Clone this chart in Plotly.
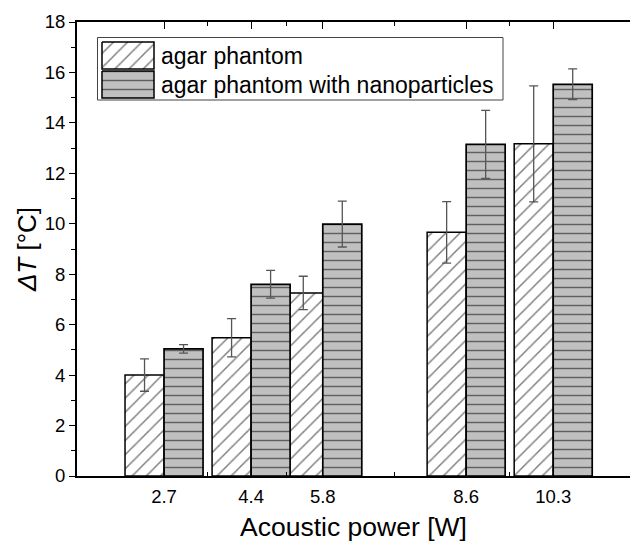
import plotly.graph_objects as go

# ---- data ----
power = [2.7, 4.4, 5.8, 8.6, 10.3]
tick_labels = ["2.7", "4.4", "5.8", "8.6", "10.3"]
dT_agar = [4.00, 5.48, 7.26, 9.66, 13.17]
err_agar = [0.64, 0.76, 0.66, 1.22, 2.30]
dT_nano = [5.04, 7.60, 9.99, 13.15, 15.53]
err_nano = [0.17, 0.55, 0.91, 1.35, 0.61]
series_names = ["agar phantom", "agar phantom with nanoparticles"]

BAR_W = 0.762
FONT = "Liberation Sans, Arial, sans-serif"
GRAY = "#c0c0c0"
ERRC = "#555555"
HATCH = dict(shape="/", size=10, solidity=0.15, fgcolor="black", bgcolor="white", fillmode="overlay")
HLINE = dict(shape="-", size=9, solidity=0.16, fgcolor="black", bgcolor=GRAY, fillmode="overlay")

minor_vals = [(a + b) / 2 for a, b in zip(power[:-1], power[1:])]

fig = go.Figure()

fig.add_trace(go.Bar(
    x=power, y=dT_agar, width=BAR_W, offset=-BAR_W, name=series_names[0],
    marker=dict(color="white", line=dict(color="black", width=1.5), pattern=HATCH),
    error_y=dict(type="data", array=err_agar, color=ERRC, thickness=1.3, width=4.5),
    showlegend=False,
))
fig.add_trace(go.Bar(
    x=power, y=dT_nano, width=BAR_W, offset=0, name=series_names[1],
    marker=dict(color=GRAY, line=dict(color="black", width=1.7), pattern=HLINE),
    error_y=dict(type="data", array=err_nano, color=ERRC, thickness=1.3, width=4.5),
    showlegend=False,
))

# ---- custom legend drawn on a pixel-space overlay axis ----
def rect(x0, y0, x1, y1):
    return [x0, x1, x1, x0, x0], [y0, y0, y1, y1, y0]

sx, sy = rect(102, 42, 154, 69)
fig.add_trace(go.Scatter(
    x=sx, y=sy, xaxis="x2", yaxis="y2", mode="lines", fill="toself",
    fillcolor="white", line=dict(color="black", width=1.5),
    fillpattern=HATCH, showlegend=False, hoverinfo="skip"))
sx, sy = rect(102, 71, 154, 98)
fig.add_trace(go.Scatter(
    x=sx, y=sy, xaxis="x2", yaxis="y2", mode="lines", fill="toself",
    fillcolor=GRAY, line=dict(color="black", width=1.5),
    fillpattern=HLINE, showlegend=False, hoverinfo="skip"))

fig.add_shape(type="rect", xref="x2", yref="y2", x0=97.5, x1=503, y0=37.5, y1=100,
              line=dict(color="#444444", width=1), fillcolor="white", layer="below")
for name, yc in zip(series_names, [55.5, 84.5]):
    fig.add_annotation(xref="x2", yref="y2", x=159, y=yc, text=name, showarrow=False,
                       xanchor="left", yanchor="middle",
                       font=dict(family=FONT, size=23, color="black"))

fig.update_layout(
    width=630, height=547,
    margin=dict(l=77, r=0, t=22, b=71),
    paper_bgcolor="white", plot_bgcolor="white",
    barmode="overlay",
    font=dict(family=FONT, color="black"),
    xaxis=dict(
        range=[1.0, 11.8], tickmode="array", tickvals=power, ticktext=tick_labels,
        ticks="inside", ticklen=7, tickwidth=1.3, tickcolor="black",
        showline=True, linecolor="black", linewidth=1.8, mirror="ticks",
        showgrid=False, zeroline=False,
        tickfont=dict(family=FONT, size=18.5, color="black"),
        ticklabelstandoff=3,
        minor=dict(tickmode="array", tickvals=minor_vals, ticks="inside",
                   ticklen=4, tickwidth=1.3, tickcolor="black", showgrid=False),
        title=dict(text="Acoustic power [W]", font=dict(family=FONT, size=26.5, color="black"),
                   standoff=11),
    ),
    yaxis=dict(
        range=[0, 18], tickmode="linear", tick0=0, dtick=2,
        ticks="outside", ticklen=6, tickwidth=1.3, tickcolor="black",
        showline=True, linecolor="black", linewidth=1.8, mirror=False,
        showgrid=False, zeroline=False,
        tickfont=dict(family=FONT, size=18.5, color="black"),
        minor=dict(dtick=1, ticks="outside", ticklen=4, tickwidth=1.3,
                   tickcolor="black", showgrid=False),
        title=dict(text="<i>Δ</i><i>T</i> [°C]", font=dict(family=FONT, size=26, color="black"),
                   standoff=1),
    ),
    xaxis2=dict(overlaying="x", anchor="y2", range=[77, 630], visible=False, fixedrange=True),
    yaxis2=dict(overlaying="y", anchor="x2", range=[476, 22], visible=False, fixedrange=True),
)

fig.write_html("out.html")
